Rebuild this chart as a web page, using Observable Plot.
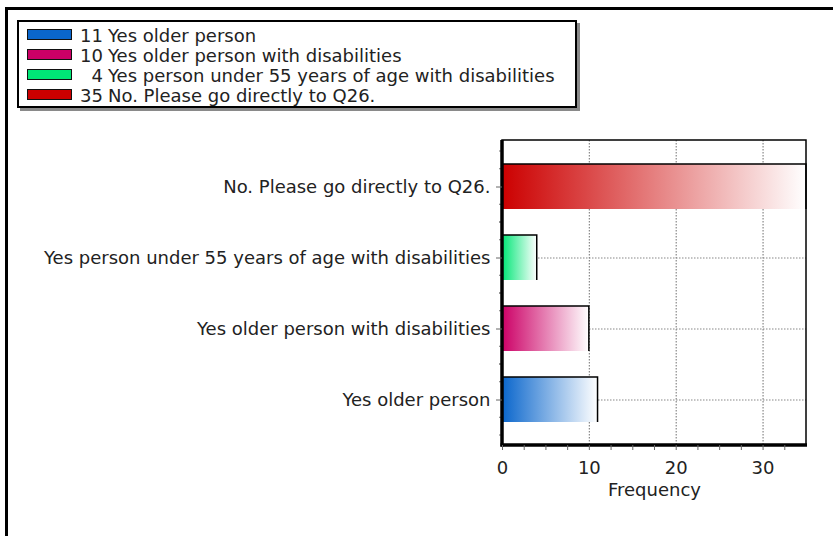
<!DOCTYPE html>
<html><head><meta charset="utf-8">
<script src="https://cdn.jsdelivr.net/npm/d3@7"></script>
<script src="https://cdn.jsdelivr.net/npm/@observablehq/plot@0.6"></script>
<style>
body{margin:0;background:#fff;}
#wrap{position:relative;width:833px;height:536px;overflow:hidden;font-family:"DejaVu Sans",Verdana,sans-serif;color:#222;}
#border{position:absolute;left:5px;top:7px;width:900px;height:700px;border-left:3px solid #000;border-top:3px solid #000;}
#legend{position:absolute;left:17px;top:20px;width:556px;padding:4px 0 0 0;border:2px solid #000;box-shadow:3px 3px 0 #8a8a8a;background:#fff;}
.row{display:flex;align-items:center;height:20px;font-size:18px;white-space:pre;line-height:20px;}
.sw{width:43px;height:9px;border:1.6px solid #111;margin-left:8px;margin-right:8px;position:relative;top:-2px;}
.num{display:inline-block;width:23px;text-align:right;margin-right:5px;}
#chart{position:absolute;left:0;top:0;}
</style></head>
<body><div id="wrap"><div id="border"></div><div id="chart"></div><div id="legend"></div></div>
<script>
const categories = ["No. Please go directly to Q26.", "Yes person under 55 years of age with disabilities", "Yes older person with disabilities", "Yes older person"];
const frequencies = [35, 4, 10, 11];
const colors = ["#cc0000", "#00e676", "#cc0066", "#0a66cc"];
const legendOrder = [3, 2, 1, 0];
const majorTicks = [0, 10, 20, 30];
const minorTicks = d3.range(0, 35, 2.5);

const rows = categories.map((c, i) => ({category: c, frequency: frequencies[i], color: colors[i], id: "grad" + i}));

// legend
const leg = d3.select("#legend");
legendOrder.forEach(i => {
  const r = leg.append("div").attr("class", "row");
  r.append("div").attr("class", "sw").style("background", colors[i]);
  r.append("span").attr("class", "num").text(frequencies[i]);
  r.append("span").text(categories[i]);
});

const defsMark = () => {
  const d = d3.create("svg:defs");
  rows.forEach(r => {
    const g = d.append("linearGradient").attr("id", r.id).attr("x1", "0").attr("x2", "1").attr("y1", "0").attr("y2", "0");
    g.append("stop").attr("offset", "0%").attr("stop-color", r.color);
    g.append("stop").attr("offset", "100%").attr("stop-color", "#ffffff");
  });
  return d.node();
};

const minorYTicks = (index, scales, values, dims) => {
  const y = scales.y;
  const step = y.step ? y.step() : y.bandwidth() / 0.63;
  const g = d3.create("svg:g").attr("stroke", "#777").attr("stroke-width", 1);
  categories.forEach(c => {
    const cy = y(c) + y.bandwidth() / 2;
    [-0.5, -0.25, 0.25, 0.5].forEach(o => {
      g.append("line").attr("x1", dims.marginLeft - 3).attr("x2", dims.marginLeft)
        .attr("y1", cy + o * step).attr("y2", cy + o * step);
    });
  });
  return g.node();
};

const frameMark = (index, scales, values, dims) => {
  const {width, height, marginLeft: l, marginRight: r, marginTop: t, marginBottom: b} = dims;
  const g = d3.create("svg:g").attr("fill", "none").attr("stroke", "#000");
  g.append("rect").attr("x", l).attr("y", t).attr("width", width - l - r).attr("height", height - t - b).attr("stroke-width", 1.5);
  g.append("line").attr("x1", l).attr("x2", l).attr("y1", t).attr("y2", height - b + 1.5).attr("stroke-width", 3.5);
  g.append("line").attr("x1", l - 1.5).attr("x2", width - r + 1).attr("y1", height - b).attr("y2", height - b).attr("stroke-width", 3.5);
  return g.node();
};

const chart = Plot.plot({
  width: 833,
  height: 536,
  marginLeft: 502,
  marginRight: 27,
  marginTop: 140,
  marginBottom: 91,
  style: {fontFamily: "DejaVu Sans, Verdana, sans-serif", fontSize: "18px", color: "#222", background: "transparent", overflow: "visible"},
  x: {domain: [0, 35]},
  y: {domain: categories, paddingInner: 0.37, paddingOuter: 0.31},
  marks: [
    defsMark,
    Plot.ruleX(majorTicks.filter(d => d > 0), {stroke: "#888", strokeWidth: 1.2, strokeDasharray: "1.5,1.5", strokeOpacity: 1}),
    Plot.ruleY(categories, {y: d => d, stroke: "#888", strokeWidth: 1.2, strokeDasharray: "1.5,1.5", strokeOpacity: 1}),
    Plot.barX(rows, {
      x: "frequency", y: "category",
      render(index, scales, values, dims, ctx, next) {
        const g = next(index, scales, values, dims, ctx);
        d3.select(g).selectAll("rect").each(function(_, j) {
          const i = index[j];
          const w = +this.getAttribute("width"), h = +this.getAttribute("height");
          d3.select(this).attr("fill", `url(#${rows[i].id})`).attr("stroke", "#000").attr("stroke-width", 1.5)
            .attr("stroke-dasharray", `${w + h} ${w + h}`);
        });
        return g;
      }
    }),
    minorYTicks,
    frameMark,
    Plot.axisY({tickSize: 6, tickPadding: 6, label: null, stroke: "#666"}),
    Plot.axisX({ticks: minorTicks, tickFormat: d => (d % 10 === 0 ? d : ""), tickSize: 5, tickPadding: 11, stroke: "#666",
      label: "Frequency", labelAnchor: "center", labelArrow: "none", labelOffset: 50})
  ]
});
document.getElementById("chart").appendChild(chart);
</script></body></html>
